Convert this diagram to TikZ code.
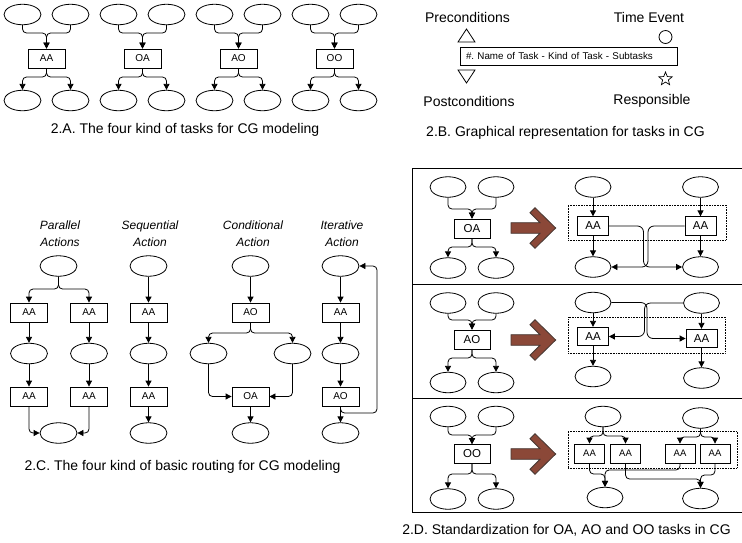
\documentclass[tikz,border=0pt]{standalone}
\usepackage{fontspec}
\setmainfont{Liberation Sans}
\usetikzlibrary{arrows.meta,shapes.geometric}
\definecolor{arrowbrown}{RGB}{139,72,56}
\definecolor{arrowedge}{RGB}{70,55,50}
\frenchspacing
\begin{document}
\begin{tikzpicture}[x=1pt,y=-1pt,line width=0.8pt,
  ell/.style={draw,ellipse,minimum width=37pt,minimum height=20.5pt,inner sep=0pt},
  task/.style={draw,rectangle,minimum width=37pt,minimum height=19pt,inner sep=0pt,font=\fontsize{10}{12}\selectfont},
  bigtask/.style={task,minimum width=36pt,font=\fontsize{11.5}{13}\selectfont},
  smalltask/.style={task,minimum width=31pt,minimum height=18.5pt,font=\fontsize{11.5}{13}\selectfont},
  tinytask/.style={task,minimum width=30pt,minimum height=19pt,font=\fontsize{9.5}{11}\selectfont},
  conn/.style={-{Triangle[length=6pt,width=6pt]},rounded corners=4pt},
  caption/.style={font=\fontsize{14}{16}\selectfont},
  tag/.style={font=\fontsize{14}{16}\selectfont},
  routing/.style={font=\fontsize{12}{17}\selectfont\itshape,align=center},
  group/.style={draw,densely dotted,line width=0.6pt,inner sep=0pt}
]
\useasboundingbox (0,0) rectangle (742,542);

% ---------- 2.A: the four kinds of tasks ----------
\foreach \bx/\lab/\i in {46.5/AA/1,142.5/OA/2,238.5/AO/3,334.5/OO/4}{
  \node[ell] (a\i-tl) at (\bx-24,14.5) {};
  \node[ell] (a\i-tr) at (\bx+24,14.5) {};
  \node[task] (a\i-t) at (\bx,58.5) {\lab};
  \node[ell] (a\i-bl) at (\bx-24,100.5) {};
  \node[ell] (a\i-br) at (\bx+24,100.5) {};
  \coordinate (a\i-m) at (\bx,33);
  \coordinate (a\i-s) at (\bx,77);
  \draw[conn] (a\i-tl.south) |- (a\i-m) -- (a\i-t.north);
  \draw[conn] (a\i-tr.south) |- (a\i-m) -- (a\i-t.north);
  \draw[conn] (a\i-t.south) -- (a\i-s) -| (a\i-bl.north);
  \draw[conn] (a\i-t.south) -- (a\i-s) -| (a\i-br.north);
}
\node[caption] (capA) at (185,130) {2.A. The four kind of tasks for CG modeling};

% ---------- 2.B: graphical representation of a task ----------
\node[tag] (pre) at (467.5,17) {Preconditions};
\node[tag] (time) at (649,17) {Time Event};
\draw (458,42) -- (475,42) -- (466.5,29) -- cycle;
\draw (665.5,37) circle[radius=6.5];
\node[draw,minimum height=18pt,inner ysep=0pt,inner xsep=6pt,text width=205pt,align=left,
      font=\fontsize{9.8}{11}\selectfont] (desc) at (568.5,56) {\#. Name of Task - Kind of Task - Subtasks};
\draw (458,70) -- (475,70) -- (466.5,83) -- cycle;
\node[draw,star,star points=5,star point ratio=2.3,minimum size=14pt,inner sep=0pt,line width=0.7pt] (star) at (665.5,79) {};
\node[tag] (post) at (469,101) {Postconditions};
\node[tag] (resp) at (652,101) {Responsible};
\node[caption] (capB) at (565.5,133) {2.B. Graphical representation for tasks in CG};

% ---------- 2.C: basic routing ----------
\node[routing] (lpar) at (60,233.5) {Parallel\\Actions};
\node[routing] (lseq) at (150,233.5) {Sequential\\Action};
\node[routing] (lcon) at (253,233.5) {Conditional\\Action};
\node[routing] (lite) at (342,233.5) {Iterative\\Action};

% parallel
\node[ell] (p0) at (58.5,266) {};
\node[task] (pa1) at (29,312.5) {AA};
\node[task] (pa2) at (89,312.5) {AA};
\node[ell] (pe1) at (29,353.5) {};
\node[ell] (pe2) at (89,353.5) {};
\node[task] (pb1) at (29,396.5) {AA};
\node[task] (pb2) at (89,396.5) {AA};
\node[ell] (pend) at (58.5,433) {};
\coordinate (psplit) at (58.5,289);
\draw[conn] (p0.south) -- (psplit) -| (pa1.north);
\draw[conn] (p0.south) -- (psplit) -| (pa2.north);
\draw[conn] (pa1.south) -- (pe1.north);
\draw[conn] (pa2.south) -- (pe2.north);
\draw[conn] (pe1.south) -- (pb1.north);
\draw[conn] (pe2.south) -- (pb2.north);
\draw[conn] (pb1.south) |- (pend.west);
\draw[conn] (pb2.south) |- (pend.east);

% sequential
\node[ell] (s0) at (148.5,266) {};
\node[task] (sa) at (148.5,312.5) {AA};
\node[ell] (se) at (148.5,353.5) {};
\node[task] (sb) at (148.5,396.5) {AA};
\node[ell] (send) at (148.5,433) {};
\draw[conn] (s0.south) -- (sa.north);
\draw[conn] (sa.south) -- (se.north);
\draw[conn] (se.south) -- (sb.north);
\draw[conn] (sb.south) -- (send.north);

% conditional
\node[ell] (c0) at (250.5,266) {};
\node[task] (ca) at (250.5,312.5) {AO};
\node[ell] (ce1) at (208.5,353.5) {};
\node[ell] (ce2) at (292.5,353.5) {};
\node[task] (cb) at (250.5,396.5) {OA};
\node[ell] (cend) at (250.5,433) {};
\coordinate (csplit) at (250.5,333);
\draw[conn] (c0.south) -- (ca.north);
\draw[conn] (ca.south) -- (csplit) -| (ce1.north);
\draw[conn] (ca.south) -- (csplit) -| (ce2.north);
\draw[conn] (ce1.south) |- (cb.west);
\draw[conn] (ce2.south) |- (cb.east);
\draw[conn] (cb.south) -- (cend.north);

% iterative
\node[ell] (i0) at (340.5,266) {};
\node[task] (ia) at (340.5,312.5) {AA};
\node[ell] (ie) at (340.5,353.5) {};
\node[task] (ib) at (340.5,396.5) {AO};
\node[ell] (iend) at (340.5,433) {};
\coordinate (iturn) at (340.5,413);
\coordinate (iloop) at (377,413);
\draw[conn] (i0.south) -- (ia.north);
\draw[conn] (ia.south) -- (ie.north);
\draw[conn] (ie.south) -- (ib.north);
\draw[conn] (ib.south) -- (iend.north);
\draw[conn] (ib.south) -- (iturn) -- (iloop) |- (i0.east);

\node[caption] (capC) at (182.5,467) {2.C. The four kind of basic routing for CG modeling};

% ---------- 2.D: standardization ----------
\draw[line width=0.9pt] (742,168) -- (412,168) -- (412,512) -- (742,512);
\draw[line width=0.9pt] (412,284) -- (742,284);
\draw[line width=0.9pt] (412,398) -- (742,398);

% left-hand tasks of each row
\foreach \r/\ty/\by/\my/\sy/\ey/\lab in {1/187/228.5/209/247/268/OA,2/303/339.5/320/358/382.5/AO,3/416.5/454/435/474/499/OO}{
  \node[ell,minimum width=36pt] (d\r-tl) at (448,\ty) {};
  \node[ell,minimum width=36pt] (d\r-tr) at (496,\ty) {};
  \node[bigtask] (d\r-t) at (472,\by) {\lab};
  \node[ell,minimum width=36pt] (d\r-bl) at (448,\ey) {};
  \node[ell,minimum width=36pt] (d\r-br) at (496,\ey) {};
  \coordinate (d\r-m) at (472,\my);
  \coordinate (d\r-s) at (472,\sy);
  \draw[conn] (d\r-tl.south) |- (d\r-m) -- (d\r-t.north);
  \draw[conn] (d\r-tr.south) |- (d\r-m) -- (d\r-t.north);
  \draw[conn] (d\r-t.south) -- (d\r-s) -| (d\r-bl.north);
  \draw[conn] (d\r-t.south) -- (d\r-s) -| (d\r-br.north);
}

% block arrows
\foreach \cy in {228,340,454}{
  \draw[fill=arrowbrown,draw=arrowedge,line width=0.8pt,line join=miter]
    (511,\cy-5.3) -- (540,\cy-5.3) -- (530,\cy-15.3) -- (535,\cy-20.3) -- (555.7,\cy)
    -- (535,\cy+20.3) -- (530,\cy+15.3) -- (540,\cy+5.3) -- (511,\cy+5.3) -- cycle;
}

% row 1: OA split into two AA tasks
\node[group,minimum width=158pt,minimum height=35pt] (r1-g) at (647,222.5) {};
\node[ell,minimum width=36pt] (r1-tl) at (593,187) {};
\node[ell,minimum width=36pt] (r1-tr) at (700.5,187) {};
\node[smalltask] (r1-al) at (593,226) {AA};
\node[smalltask] (r1-ar) at (700.5,226) {AA};
\node[ell,minimum width=36pt] (r1-bl) at (593,267) {};
\node[ell,minimum width=36pt] (r1-br) at (700.5,267) {};
\coordinate (r1-x1) at (643.5,226);
\coordinate (r1-x2) at (648,226);
\draw[conn] (r1-tl.south) -- (r1-al.north);
\draw[conn] (r1-tr.south) -- (r1-ar.north);
\draw[conn] (r1-al.south) -- (r1-bl.north);
\draw[conn] (r1-ar.south) -- (r1-br.north);
\draw[conn,rounded corners=6pt] (r1-al.east) -- (r1-x1) |- (r1-br.west);
\draw[conn,rounded corners=6pt] (r1-ar.west) -- (r1-x2) |- (r1-bl.east);

% row 2: AO split into two AA tasks
\node[group,minimum width=157pt,minimum height=36pt] (r2-g) at (646.5,335) {};
\node[ell,minimum width=36pt] (r2-tl) at (593,302.5) {};
\node[ell,minimum width=36pt] (r2-tr) at (701.5,303) {};
\node[smalltask] (r2-al) at (593,336.5) {AA};
\node[smalltask] (r2-ar) at (701.5,338.5) {AA};
\node[ell,minimum width=36pt] (r2-bl) at (593,376.5) {};
\node[ell,minimum width=36pt] (r2-br) at (701.5,378) {};
\coordinate (r2-x1) at (647,302.5);
\coordinate (r2-x2) at (644.5,303);
\draw[conn] (r2-tl.south) -- (r2-al.north);
\draw[conn] (r2-tr.south) -- (r2-ar.north);
\draw[conn] (r2-al.south) -- (r2-bl.north);
\draw[conn] (r2-ar.south) -- (r2-br.north);
\draw[conn,rounded corners=6pt] (r2-tl.east) -- (r2-x1) |- (r2-ar.west);
\draw[conn,rounded corners=6pt] (r2-tr.west) -- (r2-x2) |- (r2-al.east);

% row 3: OO split into four AA tasks
\node[group,minimum width=169pt,minimum height=37pt] (r3-g) at (652.5,449.5) {};
\node[ell,minimum width=36pt] (r3-tl) at (603,416.5) {};
\node[ell,minimum width=36pt] (r3-tr) at (700.5,418) {};
\node[tinytask] (r3-a1) at (589.5,453.5) {AA};
\node[tinytask] (r3-a2) at (625.5,453.5) {AA};
\node[tinytask] (r3-a3) at (680,453.5) {AA};
\node[tinytask] (r3-a4) at (715,453.5) {AA};
\node[ell,minimum width=36pt] (r3-bl) at (605,497.5) {};
\node[ell,minimum width=36pt] (r3-br) at (700.5,498.5) {};
\coordinate (r3-sl) at (603,436);
\coordinate (r3-sr) at (700.5,437);
\coordinate (r3-m1) at (605,474);
\coordinate (r3-m2) at (605,470);
\coordinate (r3-m3) at (700.5,479);
\coordinate (r3-m4) at (700.5,475);
\draw[conn] (r3-tl.south) -- (r3-sl) -| (r3-a1.north);
\draw[conn] (r3-tl.south) -- (r3-sl) -| (r3-a2.north);
\draw[conn] (r3-tr.south) -- (r3-sr) -| (r3-a3.north);
\draw[conn] (r3-tr.south) -- (r3-sr) -| (r3-a4.north);
\draw[conn] (r3-a1.south) |- (r3-m1) -- (r3-bl.north);
\draw[conn] (r3-a3.south) |- (r3-m2) -- (r3-bl.north);
\draw[conn] (r3-a2.south) |- (r3-m3) -- (r3-br.north);
\draw[conn] (r3-a4.south) |- (r3-m4) -- (r3-br.north);

\node[caption] (capD) at (566.5,530) {2.D. Standardization for OA, AO and OO tasks in CG};
\end{tikzpicture}
\end{document}
